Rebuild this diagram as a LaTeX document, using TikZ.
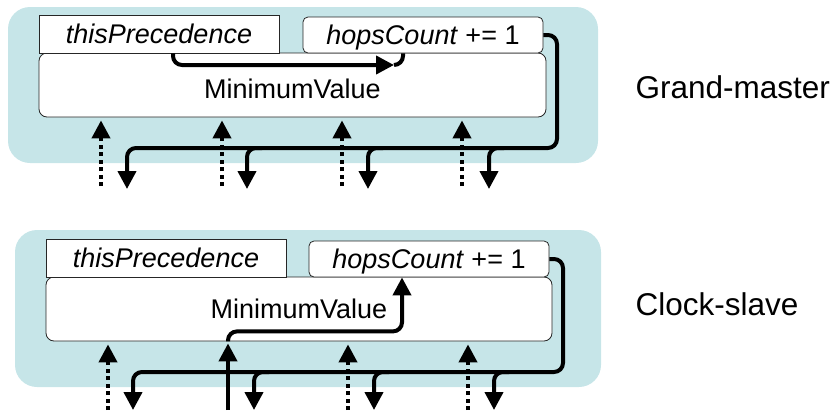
\documentclass[tikz,border=0pt]{standalone}
\usepackage{fontspec}
\setmainfont{Liberation Sans}
\usetikzlibrary{arrows.meta,calc}
\definecolor{panelblue}{RGB}{198,229,232}

\begin{document}
\begin{tikzpicture}[x=1pt, y=-1pt, >={Triangle[width=18pt,length=18pt]},
    panel/.style={fill=panelblue, rounded corners=22pt},
    field/.style={draw=black!85, fill=white, line width=0.8pt, inner sep=0pt,
        text depth=0pt, font=\fontsize{27}{32}\selectfont},
    flow/.style={line width=4pt},
    dotflow/.style={line width=4pt, dash pattern=on 4pt off 3.5pt, shorten >=3pt},
    tag/.style={anchor=base west, font=\fontsize{31.5}{36}\selectfont}]
    \useasboundingbox (0,0) rectangle (836,410);

    % Grand-master
    \fill[panel] (8,7) rectangle (598,163);
    \node[field, rounded corners=8pt, minimum width=507pt, minimum height=64pt, text height=26pt] (gmin) at (292.5,85) {MinimumValue};
    \node[field, minimum width=240pt, minimum height=38pt] (gprec) at (159,34) {\textit{thisPrecedence}};
    \node[field, rounded corners=5pt, minimum width=240pt, minimum height=36pt] (ghops) at (423,35) {\textit{hopsCount} += 1};
    \node[tag] (gname) at (632,98) {Grand-master};

    \coordinate (gturn) at (394,65);
    \coordinate (gbus) at (557,148);
    \coordinate (gin1) at (101,186);
    \coordinate (gin2) at (222,186);
    \coordinate (gin3) at (342,186);
    \coordinate (gin4) at (462,186);
    \coordinate (gout1) at (127,189);
    \coordinate (gout2) at (247,189);
    \coordinate (gout3) at (368,189);
    \coordinate (gout4) at (489,189);

    % precedence into hops
    \draw[->, flow, rounded corners=9pt] ([xshift=14pt]gprec.south) |- (gturn);
    \draw[flow, rounded corners=9pt] (gturn) -| ([xshift=-20pt]ghops.south);

    % inputs
    \draw[->, dotflow] (gin1) -- (gin1 |- gmin.south);
    \draw[->, dotflow] (gin2) -- (gin2 |- gmin.south);
    \draw[->, dotflow] (gin3) -- (gin3 |- gmin.south);
    \draw[->, dotflow] (gin4) -- (gin4 |- gmin.south);

    % outputs
    \draw[->, flow, rounded corners=9pt] (ghops.east) -| (gbus) -| (gout1);
    \draw[->, flow, rounded corners=9pt] ($(gout2 |- gbus)+(15,0)$) -| (gout2);
    \draw[->, flow, rounded corners=9pt] ($(gout3 |- gbus)+(15,0)$) -| (gout3);
    \draw[->, flow, rounded corners=9pt] ($(gout4 |- gbus)+(15,0)$) -| (gout4);

    % Clock-slave
    \fill[panel] (15,230) rectangle (601,387);
    \node[field, rounded corners=8pt, minimum width=506pt, minimum height=64pt] (cmin) at (299,309) {MinimumValue};
    \node[field, minimum width=240pt, minimum height=38pt] (cprec) at (166,258) {\textit{thisPrecedence}};
    \node[field, rounded corners=5pt, minimum width=240pt, minimum height=36pt] (chops) at (429,259) {\textit{hopsCount} += 1};
    \node[tag] (cname) at (632,315) {Clock-slave};

    \coordinate (cbus) at (563,372);
    \coordinate (cin1) at (108,410);
    \coordinate (cin2) at (228,410);
    \coordinate (cin3) at (348,410);
    \coordinate (cin4) at (468,410);
    \coordinate (cout1) at (133,410);
    \coordinate (cout2) at (254,410);
    \coordinate (cout3) at (374,410);
    \coordinate (cout4) at (494,410);

    % inputs
    \draw[->, dotflow] (cin1) -- (cin1 |- cmin.south);
    \draw[->, flow] (cin2) -- ([yshift=-2pt]cin2 |- cmin.south);
    \draw[->, flow, rounded corners=9pt] (cin2 |- cmin.south) |- ($(chops.south)+(-27,54)$) -- ([xshift=-27pt]chops.south);
    \draw[->, dotflow] (cin3) -- (cin3 |- cmin.south);
    \draw[->, dotflow] (cin4) -- (cin4 |- cmin.south);

    % outputs
    \draw[->, flow, rounded corners=9pt] (chops.east) -| (cbus) -| (cout1);
    \draw[->, flow, rounded corners=9pt] ($(cout2 |- cbus)+(15,0)$) -| (cout2);
    \draw[->, flow, rounded corners=9pt] ($(cout3 |- cbus)+(15,0)$) -| (cout3);
    \draw[->, flow, rounded corners=9pt] ($(cout4 |- cbus)+(15,0)$) -| (cout4);
\end{tikzpicture}
\end{document}
